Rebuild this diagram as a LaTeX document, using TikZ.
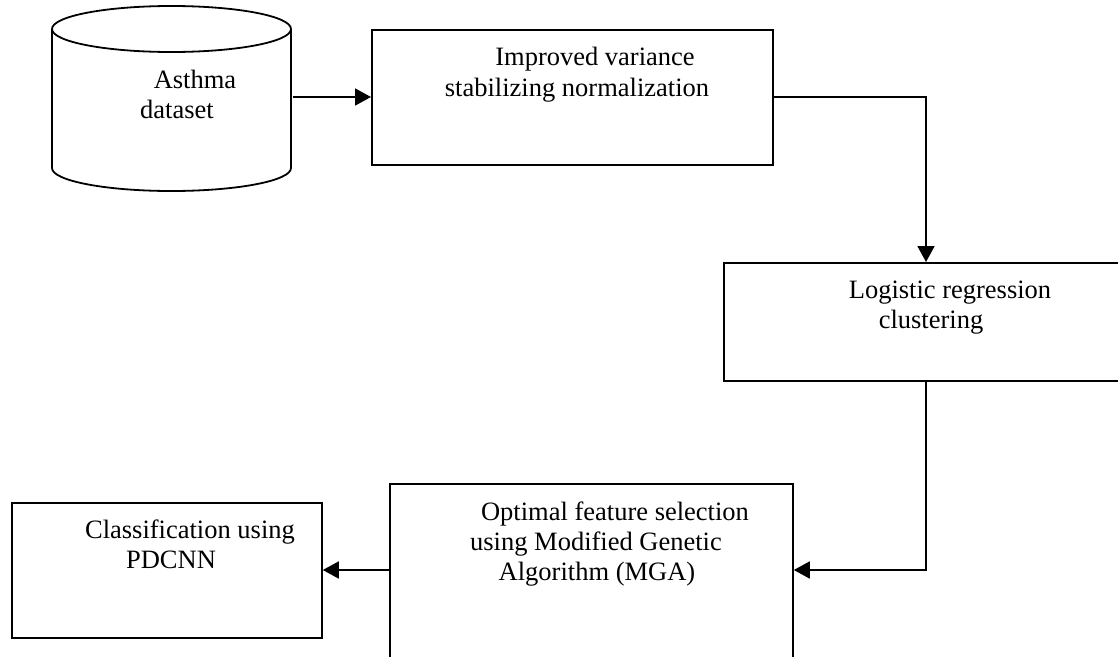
\documentclass[tikz,border=0pt]{standalone}
\usepackage{fontspec}
\setmainfont{Liberation Serif}
\usetikzlibrary{arrows.meta}
\begin{document}
\begin{tikzpicture}[x=1pt,y=-1pt,
  line width=1.8pt,
  boxnode/.style={draw, line width=1.8pt, inner sep=0pt, anchor=north west},
  txt/.style={anchor=base, inner sep=0pt, font=\fontsize{26.5pt}{30pt}\selectfont},
  flow/.style={line width=1.8pt, -{Triangle[length=16pt,width=17pt]}}]
\useasboundingbox (0,0) rectangle (1118,656);
% cylinder
\draw (52,29) -- (52,168) arc[start angle=180, end angle=0, x radius=119.5, y radius=23] -- (291,29);
\draw (171.5,29) ellipse [x radius=119.5, y radius=23];
\node[inner sep=0pt, minimum width=239pt, minimum height=186pt, anchor=north west] (db) at (52,6) {};
\node[txt] (t1) at (195,88) {Asthma};
\node[txt] (t2) at (177,118) {dataset};
% boxes
\node[boxnode, minimum width=401pt, minimum height=135pt] (b1) at (371,29) {};
\node[boxnode, minimum width=400pt, minimum height=118pt] (b2) at (723,262) {};
\node[boxnode, minimum width=403pt, minimum height=180pt] (b3) at (389,483) {};
\node[boxnode, minimum width=310pt, minimum height=135pt] (b4) at (11,502) {};
% texts
\node[txt] at (595,65) {Improved variance};
\node[txt] at (577,96) {stabilizing normalization};
\node[txt] at (950,298) {Logistic regression};
\node[txt] at (931,328) {clustering};
\node[txt] at (615,520) {Optimal feature selection};
\node[txt] at (596,550) {using Modified Genetic};
\node[txt] at (597,580) {Algorithm (MGA)};
\node[txt] at (190,538) {Classification using};
\node[txt] at (171,568) {PDCNN};
% connectors
\draw[flow] (db.east |- 0,97) -- (b1.west |- 0,97);
\draw[flow] (b1.east |- 0,97) -| (b2.north -| 926,0);
\draw[flow] (b2.south -| 926,0) |- (b3.east |- 0,570);
\draw[flow] (b3.west |- 0,570) -- (b4.east |- 0,570);
\end{tikzpicture}
\end{document}
